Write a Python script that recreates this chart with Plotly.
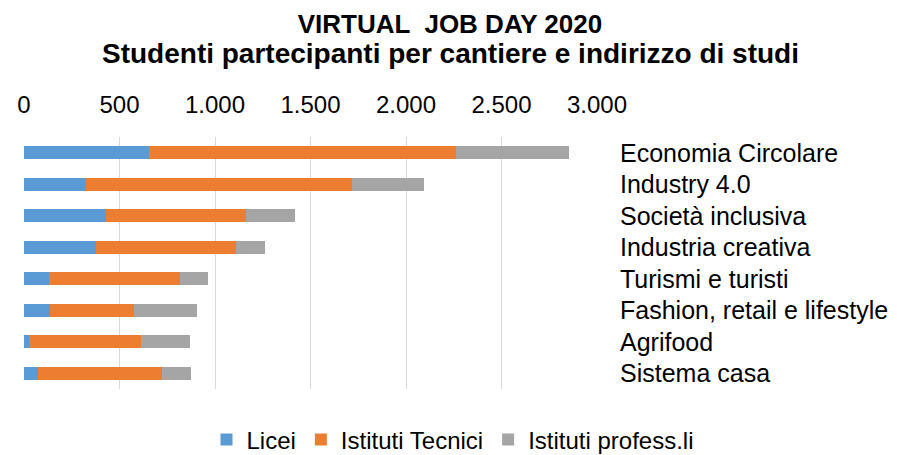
import plotly.graph_objects as go

title_text = "VIRTUAL  JOB DAY 2020"
subtitle_text = "Studenti partecipanti per cantiere e indirizzo di studi"
categories = ["Economia Circolare", "Industry 4.0", "Società inclusiva", "Industria creativa",
              "Turismi e turisti", "Fashion, retail e lifestyle", "Agrifood", "Sistema casa"]
licei = [653, 325, 430, 375, 133, 138, 24, 73]
tecnici = [1607, 1390, 731, 737, 686, 436, 587, 652]
professionali = [593, 379, 259, 150, 143, 330, 257, 150]
series_names = ["Licei", "Istituti Tecnici", "Istituti profess.li"]
colors = ["#5B9BD5", "#ED7D31", "#A5A5A5"]
tick_vals = [0, 500, 1000, 1500, 2000, 2500, 3000]

fig = go.Figure()
for name, vals, col in zip(series_names, [licei, tecnici, professionali], colors):
    fig.add_trace(go.Bar(y=categories, x=vals, name=name, orientation="h",
                         marker=dict(color=col, line=dict(width=0))))

W, H = 889, 447
ML, MR, MT, MB = 16, 300, 129, 66
plot_w = W - ML - MR
plot_h = H - MT - MB

fig.update_layout(
    barmode="stack",
    bargap=0.59,
    width=W, height=H,
    separators=",.",
    font=dict(family="Liberation Sans, Arial, sans-serif", size=23, color="#000000"),
    paper_bgcolor="white", plot_bgcolor="white",
    margin=dict(l=ML, r=MR, t=MT, b=MB, autoexpand=False),
    title=dict(text=title_text,
               x=442 / W, xanchor="center", y=1 - 16 / H, yanchor="middle", yref="container",
               xref="container",
               font=dict(size=26, color="#000000", weight="bold")),
    xaxis=dict(side="top", range=[0, 3000], tickvals=tick_vals, tickformat=",d",
               showgrid=True, gridcolor="#D9D9D9", gridwidth=1, zeroline=False,
               showline=False, ticks="", ticklabelstandoff=18, automargin=False,
               tickfont=dict(size=24)),
    yaxis=dict(side="right", autorange="reversed", showgrid=False, showline=False,
               ticks="", ticklabelstandoff=22, automargin=False,
               tickfont=dict(size=25)),
    legend=dict(orientation="h", xref="container", x=445 / W, xanchor="center",
                yref="container", y=15 / H, yanchor="middle",
                font=dict(size=24), traceorder="normal"),
)

fig.add_annotation(text=subtitle_text, xref="paper", yref="paper",
                   x=(442 - ML) / plot_w, y=(H - MB - 45) / plot_h,
                   xanchor="center", yanchor="middle", showarrow=False,
                   font=dict(size=28, color="#000000", weight="bold"))

fig.write_html("out.html")
